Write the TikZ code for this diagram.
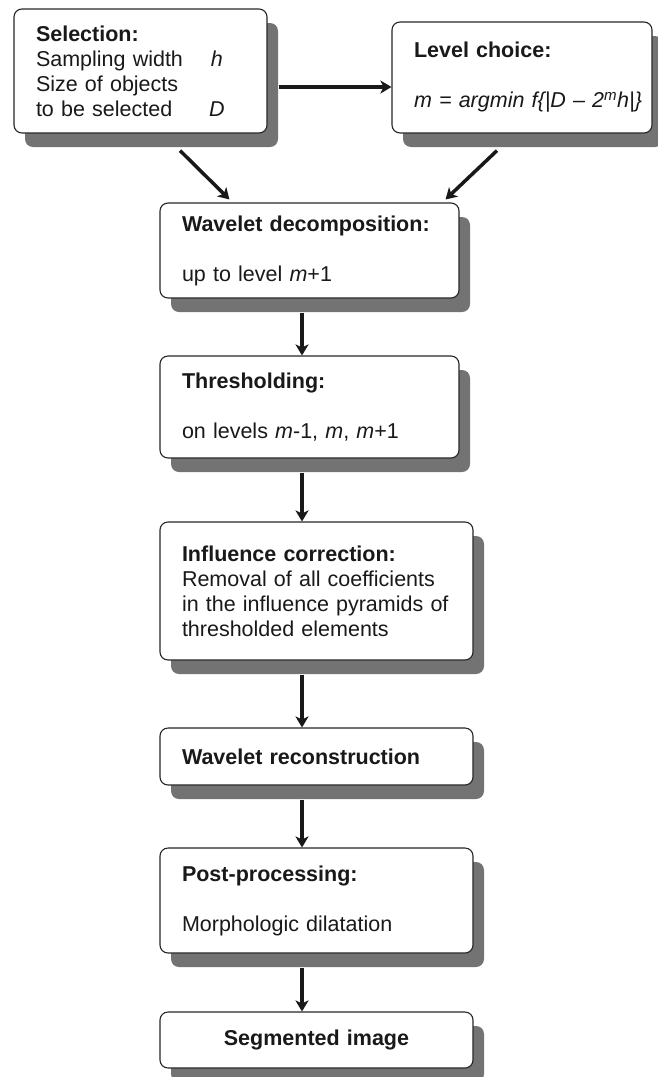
\documentclass[tikz,border=0pt]{standalone}
\usepackage{fontspec}
\setsansfont{Liberation Sans}
\usepackage{tikz}
\usetikzlibrary{arrows.meta,shadows,calc,positioning}
\tikzset{stage/.style = {draw=black!85, line width=1.1pt, rounded corners=8pt, fill=white, drop shadow={shadow xshift=11pt, shadow yshift=-14pt, opacity=1, fill=black!55}, align=left, inner xsep=22pt, inner ysep=0pt, font=\sffamily\fontsize{21.5}{25}\selectfont, text=black!90}}
\tikzset{flow/.style={line width=3.5pt, -{Stealth[length=11pt,width=13pt,inset=3pt]}, black!90}}

\begin{document}
\begin{tikzpicture}[x=1pt,y=-1pt]
\useasboundingbox (0,0) rectangle (657,1077);

\node[stage, text width=209pt, minimum height=124pt] (sel) at (140.5,71) {\textbf{Selection:}\\ \makebox[175pt][l]{Sampling width}\textit{h}\\ Size of objects\\ \makebox[173pt][l]{to be selected}\textit{D}};
\node[stage, text width=216pt, minimum height=111pt] (lvl) at (522,77.5) {\textbf{Level choice:}\\[25pt] \mbox{\textit{m = argmin f\{|D – 2\textsuperscript{m}h|\}}}};

\node[stage, text width=255pt, minimum height=95pt] (dec) at (309.5,250.5) {\textbf{Wavelet decomposition:}\\[25pt] up to level \textit{m}+1};
\node[stage, text width=255pt, minimum height=102pt] (thr) at (309.5,407) {\textbf{Thresholding:}\\[25pt] on levels \textit{m}-1, \textit{m}, \textit{m}+1};
\node[stage, text width=269pt, minimum height=138pt] (inf) at (316.5,591) {\textbf{Influence correction:}\\ Removal of all coefficients\\ in the influence pyramids of\\ thresholded elements};
\node[stage, text width=269pt, minimum height=57pt] (rec) at (316.5,756.5) {\textbf{Wavelet reconstruction}};
\node[stage, text width=269pt, minimum height=105pt] (post) at (316.5,900.5) {\textbf{Post-processing:}\\[25pt] Morphologic dilatation};
\node[stage, text width=269pt, minimum height=56pt, align=center] (seg) at (316.5,1040) {\textbf{Segmented image}};

\coordinate (ax) at (302,0);
\coordinate (h) at ($(sel.east)+(11,16)$);

\draw[flow] (h) -- (h -| lvl.west);
\draw[flow] ($(sel.south)+(39.5,17)$) -- ($(dec.north west)+(70,-3)$);
\draw[flow] ($(lvl.south)+(-25,17)$) -- ($(dec.north east)+(-14,-3)$);

\draw[flow] ($(dec.south -| ax)+(0,14)$) -- (thr.north -| ax);
\draw[flow] ($(thr.south -| ax)+(0,14)$) -- (inf.north -| ax);
\draw[flow] ($(inf.south -| ax)+(0,14)$) -- (rec.north -| ax);
\draw[flow] ($(rec.south -| ax)+(0,14)$) -- (post.north -| ax);
\draw[flow] ($(post.south -| ax)+(0,14)$) -- (seg.north -| ax);
\end{tikzpicture}
\end{document}
